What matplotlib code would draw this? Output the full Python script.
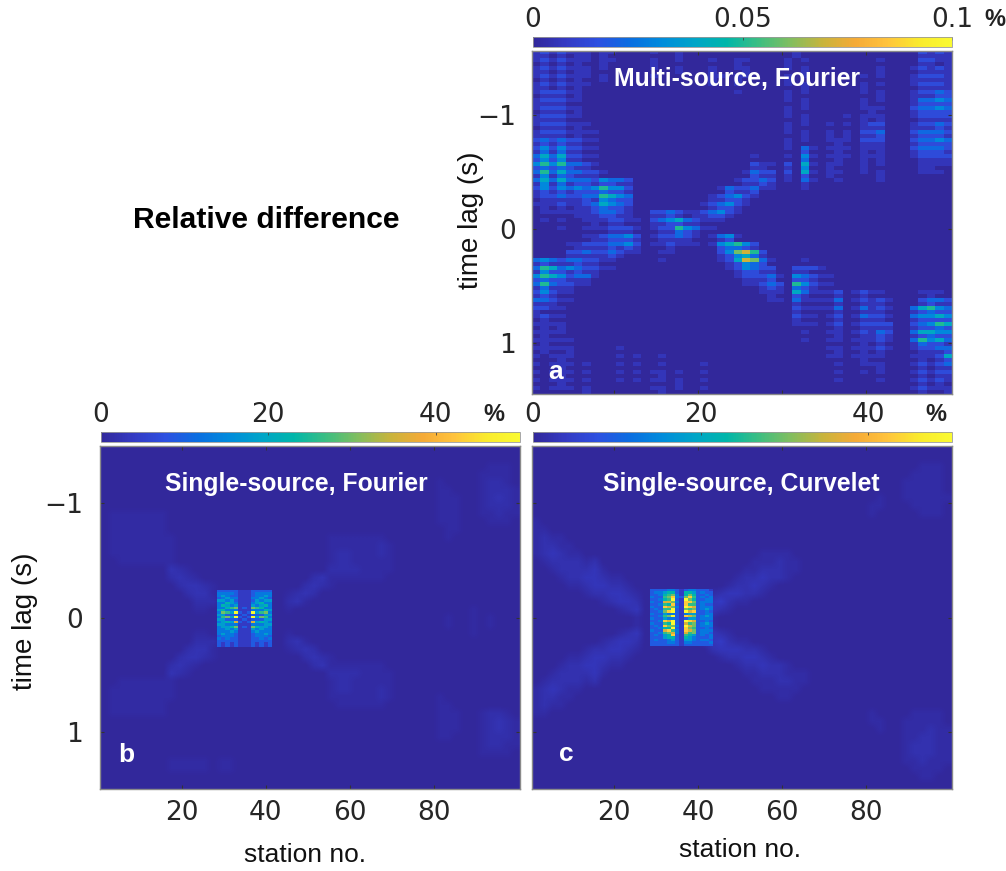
import matplotlib
matplotlib.use("Agg")
import matplotlib.pyplot as plt
import numpy as np
from matplotlib.colors import LinearSegmentedColormap

W, H = 1006, 871

# parula-like colours of the colorbar
bar_colors = [(50, 40, 155), (52, 58, 195), (45, 80, 225), (10, 110, 225), (0, 140, 220),
              (0, 165, 200), (0, 182, 170), (60, 190, 130), (130, 190, 95), (200, 180, 60),
              (245, 170, 55), (255, 195, 60), (250, 235, 45), (250, 250, 50)]
parula = LinearSegmentedColormap.from_list("parula", [tuple(v / 255 for v in c) for c in bar_colors])

# panel a, 50 columns x 86 rows, one digit per cell
levels_a = [0, 0.006, 0.014, 0.022, 0.030, 0.040, 0.050, 0.060, 0.070, 0.080]
grid_a = [
    "1212111011 0000100100 0000000000 0100000000 0000002121",
    "1101011010 0000000100 0000000000 0100000000 0000001111",
    "1212111011 0000100100 0100110000 1010000000 0100002211",
    "0101010010 0000100000 0000100000 1000000000 0000001101",
    "1212111010 0000100100 0100110000 1010000000 0100012121",
    "1101011000 0000000100 0100010000 0010000000 0100001111",
    "1212111010 0000100000 0110110000 1010000001 0100012221",
    "0101010010 0000000000 0100100000 1000000000 0000011111",
    "1212111000 0000000000 0100100000 1010000001 0100012221",
    "1101010000 0000000000 0000000000 0010000001 0000001111",
    "1222110000 0000000000 0000100000 1010000001 0100012232",
    "0111010000 0000000000 0000000000 1000000000 0100011122",
    "1222110000 0000000000 0000000000 1010000001 0100013343",
    "1111000000 0000000000 0000000000 0010000001 0000012222",
    "1222110000 0000000000 0000000000 1010000001 1100023343",
    "0111010000 0000000000 0000000000 1000000000 1000012222",
    "1222110000 0000000000 0000000000 1010000101 1100012222",
    "1111000000 0000000000 0000000000 0010000001 0100001111",
    "1222111000 0000000000 0000000000 1010010101 2200012232",
    "0111010000 0000000000 0000000000 1000000001 1100011121",
    "1222111100 0000000000 0000000000 1010010102 2300023332",
    "1111010000 0000000000 0000000000 0010010101 1200012221",
    "2323221100 0000000000 0000000000 1010011102 2200023343",
    "1212110000 0000000000 0000000000 1000001001 1100012222",
    "2424221100 0000000000 0000000000 1031011101 1100023332",
    "1313110000 0000000000 0000000000 0020001001 0100012221",
    "3535221100 0000000000 0000001000 1041011101 1100012222",
    "2424110000 0000000000 0000000000 0030001001 0100001111",
    "4646332100 0000000000 0000002110 2051011001 0100001111",
    "2323211000 0000000000 0000001100 1040010001 0000001100",
    "3635332210 0000000000 0000013220 2051011001 0100001110",
    "1413211100 0000000000 0000002110 1020010000 0100000000",
    "3535333243 3200000000 0000122320 1031001000 0100000000",
    "1413122122 1100000000 0000011210 0010000000 0000000000",
    "2424343464 4200000000 0013223110 0010000000 0000000000",
    "1212122232 2100000000 0002112000 0000000000 0000000000",
    "1223223365 4300000000 0123421000 0000000000 0000000000",
    "0111112143 2200000000 0112210000 0000000000 0000000000",
    "1112112354 3200000000 1234210000 0000000000 0000000000",
    "0101011232 2100000000 0122100000 0000000000 0000000000",
    "0111111233 2100223211 2342100000 0000000000 0000000000",
    "0000011122 1100112101 1221000000 0000000000 0000000000",
    "0101001112 2110234532 1110000000 0000000000 0000000000",
    "0000000101 1000112211 0000000000 0000000000 0000000000",
    "0001001112 2210122643 1100000000 0000000000 0000000000",
    "0000000001 1100011321 0000000000 0000000000 0000000000",
    "0000001123 3420122321 0134100000 0000000000 0000000000",
    "0000000112 2210011110 0012000000 0000000000 0000000000",
    "0000112223 3420112111 0145642000 0000000000 0000000000",
    "0000011112 1210001000 0023321000 0000000000 0000000000",
    "0000223223 2110011000 0024786200 0000000000 0000000000",
    "0000111112 1000000000 0012453100 0000000000 0000000000",
    "3432332211 0000010000 0012587310 0010000000 0000000000",
    "1211121100 0000000000 0001243200 0000000000 0000000000",
    "3653432211 0000000000 0001243220 0222100000 0000000000",
    "1422121100 0000000000 0000122110 0110000000 0000000000",
    "4654233100 0000000000 0000122231 0432110000 0000000000",
    "2322111000 0000000000 0000011120 0221000000 0000000000",
    "3632211000 0000000000 0000011232 0642110000 0000000000",
    "1311100000 0000000000 0000000121 0321000000 0000000000",
    "2421100000 0000000000 0000000111 0531112012 1100001110",
    "1210000000 0000000000 0000000010 0210001001 0000000100",
    "3321100000 0000000000 0000000011 0311113012 1210002332",
    "1110000000 0000000000 0000000000 0100001001 1100001211",
    "2211000000 0000000000 0000000000 0211113013 1210035643",
    "1000000000 0000000000 0000000000 0100001001 1100012322",
    "1211000000 0000000000 0000000000 0211012013 2210034454",
    "0100000000 0000000000 0000000000 0100001001 1100012222",
    "1111000000 0000000000 0000000000 0111012012 2220023465",
    "0101000000 0000000000 0000000000 0000001001 1110012232",
    "1111000000 0000000000 0000000000 0010011012 1320035544",
    "0100000000 0000000000 0000000000 0000001001 1210012322",
    "1111100000 0000000000 0000000000 0010011011 1210036453",
    "0100000000 0000000000 0000000000 0000000001 0100013221",
    "1111100000 1000000000 0000000000 0000011011 1210012233",
    "0100100000 0000000000 0000000000 0000001001 0100001112",
    "1011100000 1010010000 0000000000 0000011011 1100011125",
    "0001000000 0000000000 0000000000 0000000001 0000001012",
    "1011101000 1010010000 1000000000 0000001001 1100012123",
    "0001000000 0000000000 0000000000 0000000000 0100001011",
    "1011101000 1010110100 1000000000 0000001001 0100012122",
    "0001000000 0000010000 0000000000 0000000000 0000001011",
    "1011101000 1010110100 1000000000 0000001000 0100012121",
    "0001000000 0000000100 0000000000 0000000000 0000001010",
    "1011101000 0000110100 1000000000 0000000000 0000012111",
    "0000001000 0000010000 0000000000 0000000000 0000001001",
]

# coarse grids for b and c, 50 columns x 43 rows
grid_b = [
    "0000000000 0000000000 0000000000 0000000000 0000000000",
    "0000000000 0000000000 0000000000 0000000000 0000000000",
    "0000000000 0000000000 0000000000 0000000000 0000001110",
    "0000000000 0000000000 0000000000 0000000000 0000011110",
    "0000000000 0000000000 0000000000 0000000000 1000012210",
    "0000000000 0000000000 0000000000 0000000000 1100012221",
    "0000000000 0000000000 0000000000 0000000000 1110012321",
    "0000000000 0000000000 0000000000 0000000000 1110012221",
    "0111111100 0000000000 0000000000 0000000000 1110011211",
    "0111111100 0000000000 0000000000 0000000000 1110001110",
    "0111111100 0000000000 0000000000 0000000000 0110000000",
    "0111111110 0000000000 0000000111 1111000000 0100000000",
    "0111111110 0000000000 0000000111 1112100000 0000000000",
    "0111111110 0000000000 0000000122 1112100000 0000000000",
    "0011111110 0000000000 0000000122 1111100000 0000000000",
    "0000000032 1000000000 0000000222 2111100000 0000000000",
    "0000000023 2100000000 0000023111 1111000000 0000000000",
    "0000000002 3321000000 0000232100 0000000000 0000000000",
    "0000000000 2331000000 0012320000 0000000000 0000000000",
    "0000000000 0222000000 0023100000 0000000000 0000000000",
    "0000000000 0110000000 0010000000 0000000000 0000100000",
    "0000000000 0000000000 0000000000 0000000000 0100101000",
    "0000000000 0000000000 0000000000 0000000000 0100101000",
    "0000000000 0110000000 0010000000 0000000000 0000100000",
    "0000000000 0222000000 0023100000 0000000000 0000000000",
    "0000000000 2331000000 0012320000 0000000000 0000000000",
    "0000000002 3321000000 0000232100 0000000000 0000000000",
    "0000000023 2100000000 0000023111 1111000000 0000000000",
    "0000000032 1000000000 0000000222 2111100000 0000000000",
    "0011111110 0000000000 0000000122 1111100000 0000000000",
    "0111111110 0000000000 0000000122 1112100000 0000000000",
    "0111111110 0000000000 0000000111 1112100000 1000000000",
    "0111111100 0000000000 0000000011 1111000000 1100000000",
    "0111111100 0000000000 0000000000 0000000000 1110012210",
    "0000000000 0000000000 0000000000 0000000000 1110012321",
    "0000000000 0000000000 0000000000 0000000000 1110012321",
    "0000000000 0000000000 0000000000 0000000000 1100012221",
    "0000000000 0000000000 0000000000 0000000000 0000012211",
    "0000000000 0000000000 0000000000 0000000000 0000011110",
    "0000000011 1110110000 0000000000 0000000000 0000000000",
    "0000000011 1110110000 0000000000 0000000000 0000000000",
    "0000000000 0000000000 0000000000 0000000000 0000000000",
    "0000000000 0000000000 0000000000 0000000000 0000000000",
]

grid_c = [
    "0000000000 0000000000 0000000000 0000000000 0000000000",
    "0000000000 0000000000 0000000000 0000000000 0000000000",
    "0000000000 0000000000 0000000000 0000000000 0000001110",
    "0000000000 0000000000 0000000000 0000000000 0000011110",
    "0000000000 0000000000 0000000000 0000000000 0000111110",
    "0000000000 0000000000 0000000000 0000000000 0000111110",
    "0000000000 0000000000 0000000000 0000000000 0100111111",
    "0000000000 0000000000 0000000000 0000000000 1100011110",
    "0000000000 0000000000 0000000000 0000000000 1000001110",
    "1000000000 0000000000 0000000000 0000000000 0000000000",
    "1100000000 0000000000 0000000000 0000000000 0000000000",
    "1211000000 0000000000 0000000000 0000000000 0000000000",
    "1221100000 0000000000 0000000000 0000000000 0000000000",
    "1232110000 0000000000 0000000111 1000000000 0000000000",
    "0122221200 0000000000 0000001112 1100000000 0000000000",
    "0012222310 0000000000 0000011222 1100000000 0000000000",
    "0001223321 1000000000 0000122322 1000000000 0000000000",
    "0000112332 2100000000 0001223210 0000000000 0000000000",
    "0000001223 3210000000 0123322100 0000000000 0000000000",
    "0000000012 3320000000 2342110000 0000000000 0000000000",
    "0000000000 1230000000 4321000000 0000000000 0000000000",
    "0000000000 0010000000 2100000000 0000000000 0000000000",
    "0000000000 0010000000 2100000000 0000000000 0000000000",
    "0000000000 1230000000 4321000000 0000000000 0000000000",
    "0000000012 3320000000 2342110000 0000000000 0000000000",
    "0000001223 3210000000 0233322100 0000000000 0000000000",
    "0000112332 2100000000 0012233210 0000000000 0000000000",
    "0001223321 1000000000 0000122322 1000000000 0000000000",
    "0012222310 0000000000 0000011222 1110000000 0000000000",
    "0122221200 0000000000 0000001112 2110000000 0000000000",
    "1232110000 0000000000 0000000111 1100000000 0000000000",
    "1221100000 0000000000 0000000001 1000000000 0000000000",
    "1211000000 0000000000 0000000000 0000000000 0000000000",
    "1100000000 0000000000 0000000000 0000000000 1000011110",
    "0000000000 0000000000 0000000000 0000000000 1100111110",
    "0000000000 0000000000 0000000000 0000000000 0100111211",
    "0000000000 0000000000 0000000000 0000000000 0000112211",
    "0000000000 0000000000 0000000000 0000000000 0000122211",
    "0000000000 0000000000 0000000000 0000000000 0000122211",
    "0000000000 0000000000 0000000000 0000000000 0000112111",
    "0000000000 0000000000 0000000000 0000000000 0000011110",
    "0000000000 0000000000 0000000000 0000000000 0000001100",
    "0000000000 0000000000 0000000000 0000000000 0000000000",
]
levels_b = [0, 0.8, 1.6, 2.4, 3.2, 4, 5, 6, 7, 8]
levels_c = [0, 1, 2, 3, 4, 5, 6, 7, 8, 9]

# fine cells of the bright centre in b and c
levels_core = [4, 9, 13, 18, 23, 26, 30, 36, 43, 50]
core_b = [
    "1111100011111", "2222100012222", "2321100012232", "1232200022321",
    "3323100013233", "2243200023422", "2432300032342", "2245601065422",
    "3422200022243", "2653910193562", "3311101011133", "2563910193652",
    "3311101011133", "2343710173432", "3322200022233", "2334601064332",
    "2232300032322", "2223200023222", "2322100012232", "1222100012221",
    "2121100011212", "1111100011111", "1010100010101", "1010100010101",
]
core_c = [
    "111122101221110", "122344104431211", "112456204641121", "211568216851212",
    "112459109641122", "211776208861222", "112548108551211", "211876209871222",
    "121559106561232", "112689109781121", "211322102331122", "112569108761232",
    "211322101331222", "112879109871121", "211549107561232", "121866209761222",
    "112449108651121", "211785208761222", "112567207561221", "121348105431212",
    "111344104321112", "121123103321221", "111122102211112", "111111101111111",
]

xticks = [20, 40, 60, 80]
yticks = [-1, 0, 1]
plt.rcParams["font.family"] = ["Liberation Sans", "DejaVu Sans"]
DIGIT_FONT = "DejaVu Sans"


def to_array(rows, levels):
    lv = np.array(levels, dtype=float)
    return np.array([[lv[int(ch)] for ch in r.replace(" ", "")] for r in rows])


def px_axes(fig, left, top, right, bottom):
    return fig.add_axes([left / W, 1 - bottom / H, (right - left) / W, (bottom - top) / H])


fig = plt.figure(figsize=(W / 100, H / 100), dpi=100)


def panel(box, grid, levels, vmax, ylim=(1.5, -1.5), interp="bilinear", core=None, core_ext=None):
    ax = px_axes(fig, *box)
    im = ax.imshow(to_array(grid, levels), cmap=parula, vmin=0, vmax=vmax, aspect="auto",
                   extent=[0.5, 100.5, ylim[0], ylim[1]], interpolation=interp)
    if core is not None:
        ax.imshow(to_array(core, levels_core), cmap=parula, vmin=0, vmax=vmax, aspect="auto",
                  extent=core_ext, interpolation="nearest")
    ax.set_xlim(0.5, 100.5)
    ax.set_ylim(*ylim)
    ax.set_xticks(xticks)
    ax.set_yticks(yticks)
    ax.tick_params(direction="in", length=3, width=0.8, color="#333333", top=True, right=True,
                   labelsize=19, labelcolor="#262626", labelfontfamily=DIGIT_FONT)
    ax.tick_params(axis="x", pad=8)
    ax.tick_params(axis="y", pad=12)
    for s in ax.spines.values():
        s.set_color("#8a8a8a")
        s.set_linewidth(1.0)
    return ax, im


def bar(im, box, ticks, labels):
    cax = px_axes(fig, *box)
    cb = fig.colorbar(im, cax=cax, orientation="horizontal")
    cax.xaxis.set_ticks_position("top")
    cb.set_ticks(ticks)
    cb.set_ticklabels(labels)
    cax.tick_params(axis="x", direction="in", length=2, width=0.6, pad=3, labelsize=19,
                    labelcolor="#262626", labelfontfamily=DIGIT_FONT, color="#444444")
    cb.outline.set_edgecolor("#999999")
    cb.outline.set_linewidth(0.6)


def px_text(x, y, s, **kw):
    fig.text(x / W, 1 - y / H, s, ha="center", va="center", **kw)


ax_a, im_a = panel((532.3, 50.7, 952.3, 394), grid_a, levels_a, 0.1,
                   ylim=(1.445, -1.564), interp="nearest")
ax_b, im_b = panel((100, 446, 519.5, 789), grid_b, levels_b, 50,
                   core=core_b, core_ext=[28.5, 41.5, 0.26, -0.23])
ax_c, im_c = panel((532.3, 446, 952.3, 789), grid_c, levels_c, 50,
                   core=core_c, core_ext=[28.5, 43.5, 0.25, -0.24])

ax_a.set_xticklabels([])
ax_c.set_yticklabels([])

for ax, pos in ((ax_a, (-0.145, 0.507)), (ax_b, (-0.179, 0.49))):
    ax.set_ylabel("time lag (s)", fontsize=20, color="#111111", va="center")
    ax.yaxis.set_label_coords(*pos)
for ax, pos in ((ax_b, (0.488, -0.192)), (ax_c, (0.495, -0.178))):
    ax.set_xlabel("station no.", fontsize=19, color="#111111", va="center")
    ax.xaxis.set_label_coords(*pos)

bar(im_a, (533, 37.3, 952, 47.3), [0, 0.05, 0.1], ["0", "0.05", "0.1"])
bar(im_b, (100.5, 432.3, 519.5, 442.3), [0, 20, 40], ["0", "20", "40"])
bar(im_c, (533, 432.3, 952, 442.3), [0, 20, 40], ["0", "20", "40"])

px_text(995, 19, "%", fontsize=17, fontweight="bold", color="#222222")
px_text(494, 414, "%", fontsize=17, fontweight="bold", color="#222222")
px_text(936, 414, "%", fontsize=17, fontweight="bold", color="#222222")

px_text(266, 220, "Relative difference", fontsize=21.6, fontweight="bold", color="black")
px_text(737, 79, "Multi-source, Fourier", fontsize=17.8, fontweight="bold", color="white")
px_text(296, 484, "Single-source, Fourier", fontsize=17.8, fontweight="bold", color="white")
px_text(741, 484, "Single-source, Curvelet", fontsize=17.8, fontweight="bold", color="white")
px_text(556, 372, "a", fontsize=19, fontweight="bold", color="white")
px_text(126, 755, "b", fontsize=19, fontweight="bold", color="white")
px_text(566, 754, "c", fontsize=19, fontweight="bold", color="white")

fig.savefig("out.png", dpi=100)
